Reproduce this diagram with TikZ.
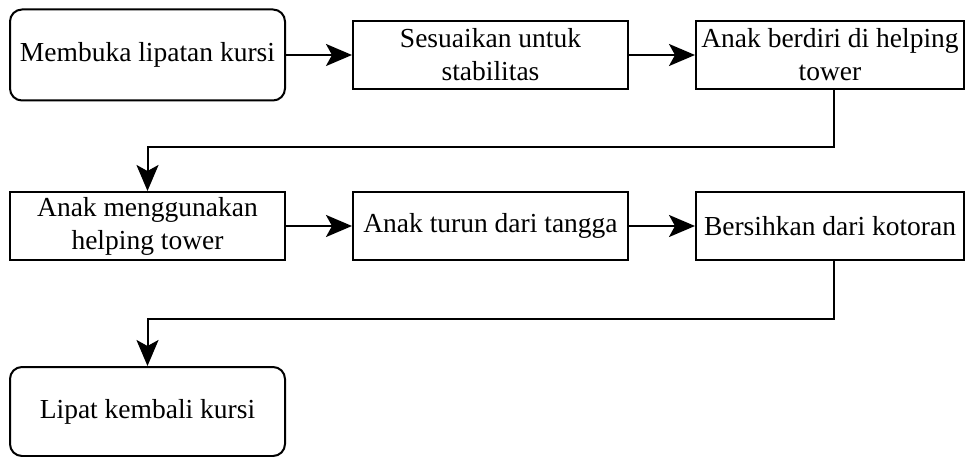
\documentclass[tikz,border=0pt]{standalone}
\usepackage{fontspec}
\setmainfont{Liberation Serif}
\usetikzlibrary{arrows.meta,positioning}

\begin{document}
\begin{tikzpicture}[x=1pt,y=-1pt,
  stepbox/.style={draw=black,line width=2pt,fill=white,minimum width=275pt,
    minimum height=68pt,align=center,inner sep=2pt,
    font=\fontsize{27.5}{33}\selectfont},
  endbox/.style={stepbox,rounded corners=12pt,minimum height=91pt},
  flow/.style={-{Stealth[length=26pt,width=22pt,inset=6pt]},line width=2pt}]
  \useasboundingbox (0,0) rectangle (966,457);
  % Row 1
  \node[endbox] (buka) at (147.5,55) {Membuka lipatan kursi};
  \node[stepbox] (stabil) at (490.5,55) {Sesuaikan untuk\\stabilitas};
  \node[stepbox,minimum width=268pt] (berdiri) at (830,55)
    {Anak berdiri di helping\\tower};
  % Row 2
  \node[stepbox] (pakai) at (147.5,226) {Anak menggunakan\\helping tower};
  \node[stepbox] (turun) at (490.5,226) {Anak turun dari tangga};
  \node[stepbox,minimum width=268pt] (bersih) at (830,226)
    {Bersihkan dari kotoran};
  % Row 3
  \node[endbox,minimum height=89pt] (lipat) at (147.5,411.5) {Lipat kembali kursi};
  % Arrows
  \draw[flow] (buka) -- (stabil);
  \draw[flow] (stabil) -- (berdiri);
  \draw[flow] ([xshift=4pt]berdiri.south) -- ++(0,57) -| (pakai.north);
  \draw[flow] (pakai) -- (turun);
  \draw[flow] (turun) -- (bersih);
  \draw[flow] ([xshift=4pt]bersih.south) -- ++(0,58) -| (lipat.north);
\end{tikzpicture}
\end{document}
